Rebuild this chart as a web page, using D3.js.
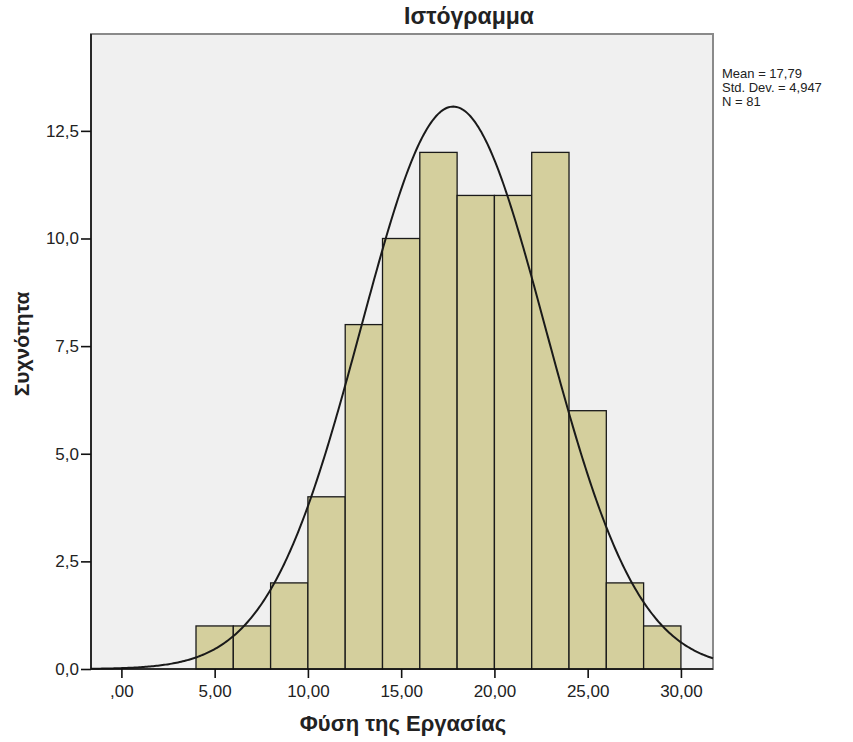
<!DOCTYPE html>
<html><head><meta charset="utf-8">
<script src="https://cdn.jsdelivr.net/npm/d3@7"></script>
<style>body{margin:0;background:#fff;} text{font-family:"Liberation Sans",Arial,sans-serif;}</style>
</head><body>
<svg id="c" width="853" height="742"></svg>
<script>
const binStarts = [4,6,8,10,12,14,16,18,20,22,24,26,28];
const counts = [1,1,2,4,8,10,12,11,11,12,6,2,1];
const binWidth = 2;
const xTicks = [0,5,10,15,20,25,30];
const yTicks = [0,2.5,5,7.5,10,12.5];
const mean = 17.79, sd = 4.947, N = 81;
const statLines = ["Mean = 17,79","Std. Dev. = 4,947","N = 81"];

const svg = d3.select("#c");
const L=91, R=713, T=34, B=669;
const x = d3.scaleLinear().domain([-1.63,31.72]).range([L,R]);
const y = d3.scaleLinear().domain([0,14.75]).range([B,T]);
const comma = v => d3.format(".2f")(v).replace(".",",").replace(/^0,/,",");
const comma1 = v => d3.format(".1f")(v).replace(".",",");

svg.append("rect").attr("x",L).attr("y",T).attr("width",R-L).attr("height",B-T)
  .attr("fill","#f0f0f0").attr("stroke","#8a8a8a").attr("stroke-width",2);

svg.append("g").selectAll("rect").data(binStarts).join("rect")
  .attr("x",d=>x(d)).attr("width",d=>x(d+binWidth)-x(d))
  .attr("y",(d,i)=>y(counts[i])).attr("height",(d,i)=>y(0)-y(counts[i]))
  .attr("fill","#d4cf9d").attr("stroke","#1a1a1a").attr("stroke-width",1.3);

const pts = d3.range(0,401).map(i=>{
  const v = -1.63 + (31.72+1.63)*i/400;
  const p = N*binWidth/(sd*Math.sqrt(2*Math.PI))*Math.exp(-0.5*((v-mean)/sd)**2);
  return [v,p];
});
svg.append("path").datum(pts)
  .attr("d", d3.line().x(d=>x(d[0])).y(d=>y(d[1])))
  .attr("fill","none").attr("stroke","#1a1a1a").attr("stroke-width",2);

const xa = svg.append("g").attr("transform",`translate(0,${B})`)
  .call(d3.axisBottom(x).tickValues(xTicks).tickFormat(comma).tickSize(9).tickSizeOuter(0));
xa.select(".domain").remove();
xa.selectAll("text").attr("font-size",17).attr("fill","#222").attr("y",12).attr("dy","0.95em");
xa.selectAll("line").attr("stroke","#111").attr("stroke-width",1.6);

const ya = svg.append("g").attr("transform",`translate(${L},0)`)
  .call(d3.axisLeft(y).tickValues(yTicks).tickFormat(comma1).tickSize(10).tickSizeOuter(0));
ya.select(".domain").remove();
ya.selectAll("text").attr("font-size",17).attr("fill","#222").attr("x",-12);
ya.selectAll("line").attr("stroke","#111").attr("stroke-width",1.6);

svg.append("line").attr("x1",L).attr("x2",L).attr("y1",T).attr("y2",B).attr("stroke","#111").attr("stroke-width",1.6);
svg.append("line").attr("x1",L).attr("x2",R).attr("y1",B).attr("y2",B).attr("stroke","#111").attr("stroke-width",1.6);

svg.append("text").attr("x",469).attr("y",24).attr("text-anchor","middle")
  .attr("font-size",23).attr("font-weight","bold").attr("fill","#222").text("Ιστόγραμμα");
svg.append("text").attr("x",403).attr("y",731).attr("text-anchor","middle")
  .attr("font-size",22).attr("font-weight","bold").attr("fill","#222").text("Φύση της Εργασίας");
svg.append("text").attr("transform",`translate(29,${344}) rotate(-90)`).attr("text-anchor","middle")
  .attr("font-size",21).attr("font-weight","bold").attr("fill","#222").text("Συχνότητα");

svg.append("g").selectAll("text").data(statLines).join("text")
  .attr("x",722).attr("y",(d,i)=>78+i*14).attr("font-size",13).attr("fill","#222").text(d=>d);
</script>
</body></html>
